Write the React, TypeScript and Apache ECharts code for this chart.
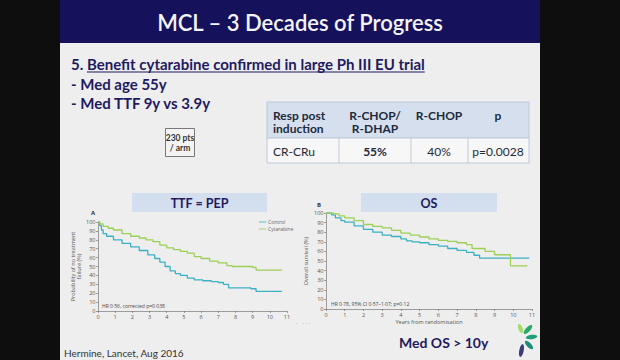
import React, { useEffect, useRef } from "react";
import * as echarts from "echarts";

// ---- data ----
const ttfControlT = [0, 0.1, 0.2, 0.3, 0.5, 0.9, 1.4, 1.9, 2.4, 2.9, 3.3, 3.6, 3.9, 4.2, 4.5, 4.8, 5.2, 5.6, 6.1, 6.6, 7.0, 7.3, 7.6, 8.2, 8.9, 9.2, 10.7];
const ttfControlV = [100, 96, 91, 87, 84, 80, 76, 72, 68, 63, 59, 55, 50, 45, 42, 40, 37, 35, 34, 33, 32, 30, 26, 26, 25, 22, 22];
const ttfCytT = [0, 0.1, 0.3, 0.6, 0.9, 1.4, 1.9, 2.4, 2.8, 3.2, 3.6, 4.0, 4.4, 4.8, 5.2, 5.6, 6.0, 6.5, 7.0, 7.5, 7.8, 8.5, 9.0, 9.2, 10.7];
const ttfCytV = [100, 98, 95, 93, 91, 87, 84, 82, 80, 78, 74, 71, 69, 67, 65, 61, 59, 56, 54, 51, 50, 50, 49, 46, 46];
const osControlT = [0, 0.3, 0.5, 0.8, 1.0, 1.5, 2.0, 2.5, 3.0, 3.5, 4.0, 4.3, 4.6, 5.0, 5.5, 6.0, 6.5, 7.0, 7.5, 7.9, 8.2, 10.85];
const osControlV = [100, 98, 95, 92, 90.5, 86.5, 83, 80, 77, 75.5, 73, 71, 70, 69, 67, 65.5, 63, 61, 59, 56, 53, 53];
const osCytT = [0, 0.4, 0.7, 1.0, 1.5, 2.0, 2.5, 3.0, 3.5, 4.0, 4.5, 5.0, 5.5, 6.0, 6.5, 7.0, 7.5, 7.8, 8.5, 9.0, 9.85, 10.75];
const osCytV = [100, 99, 97, 95, 92, 88, 86, 84.5, 82, 79, 77, 75, 73, 71.5, 70.5, 69, 67, 63, 60, 56.5, 45, 45];

const seriesNames = ["Control", "Cytarabine"];
const tableHead1 = ["Resp post", "R-CHOP/", "R-CHOP", "p"];
const tableHead2 = ["induction", "R-DHAP", "", ""];
const tableRow = ["CR-CRu", "55%", "40%", "p=0.0028"];
const bullets = ["- Med age 55y", "- Med TTF 9y vs 3.9y"];

const TEAL = "#3cb0c4";
const GREEN = "#9ccf55";
const NAVY = "#1f1b5e";
const SLIDE_FONT = "Lato";
const FIG_FONT = "Open Sans";

function pairs(t: number[], v: number[]) {
  return t.map((x, i) => [x, v[i]]);
}

function measure(str: string, font: string) {
  const c = document.createElement("canvas").getContext("2d");
  if (!c) return str.length * 7;
  c.font = font;
  return c.measureText(str).width;
}

function txt(x: number, y: number, text: string, o: any = {}) {
  return {
    type: "text",
    x,
    y,
    z: 10,
    style: {
      text,
      fill: o.fill || "#333",
      fontSize: o.size || 12,
      fontWeight: o.weight || "normal",
      fontFamily: o.family || SLIDE_FONT,
      align: o.align || "left",
      verticalAlign: "middle",
    },
  };
}

function axisCommon(extra: any) {
  return {
    type: "value",
    min: 0,
    axisLine: { show: true, lineStyle: { color: "#666", width: 0.6 } },
    axisTick: { show: true, length: 2, lineStyle: { color: "#666", width: 0.6 } },
    axisLabel: { fontSize: 5.5, margin: 2.5, color: "#555", fontFamily: FIG_FONT },
    splitLine: { show: false },
    ...extra,
  };
}

export default function App() {
  const ref = useRef<HTMLDivElement>(null);
  useEffect(() => {
    if (!ref.current) return;
    const chart = echarts.init(ref.current, undefined, { renderer: "svg" });

    const l1a = "5. ";
    const l1b = "Benefit cytarabine confirmed in large Ph III EU trial";
    const l1font = `bold 15px ${SLIDE_FONT}`;
    const wA = measure(l1a, l1font);
    const wB = measure(l1b, l1font);

    const colX = [267, 339, 411, 468, 529];
    const colC = [273, 375, 439, 498];

    const graphic: any[] = [
      { type: "rect", z: 0, shape: { x: 60, y: 0, width: 480, height: 360 }, style: { fill: "#eeeeee" } },
      { type: "rect", z: 1, shape: { x: 60, y: 0, width: 480, height: 43 }, style: { fill: "#15115a" } },
      txt(300, 22, "MCL – 3 Decades of Progress", { fill: "#f4f4fa", size: 22, weight: 600, align: "center" }),
      txt(71, 64, l1a + l1b, { fill: NAVY, size: 15, weight: "bold" }),
      { type: "line", z: 10, shape: { x1: 71 + wA, y1: 72, x2: 71 + wA + wB, y2: 72 }, style: { stroke: NAVY, lineWidth: 1 } },
      txt(71, 84, bullets[0], { fill: NAVY, size: 15, weight: "bold" }),
      txt(71, 103, bullets[1], { fill: NAVY, size: 15, weight: "bold" }),
      // pts box
      { type: "rect", z: 2, shape: { x: 165.5, y: 128.5, width: 29, height: 28 }, style: { fill: "#f3f3f3", stroke: "#7a7a7a", lineWidth: 1 } },
      txt(180, 137.5, "230 pts", { fill: "#333", size: 8.5, weight: "bold", align: "center" }),
      txt(180, 148, "/ arm", { fill: "#333", size: 8.5, weight: "bold", align: "center" }),
      // table
      { type: "rect", z: 2, shape: { x: 267, y: 102, width: 262, height: 36 }, style: { fill: "#d5dfee", stroke: "#bcc8d8", lineWidth: 1 } },
      { type: "rect", z: 2, shape: { x: 267, y: 138, width: 262, height: 25 }, style: { fill: "#f7f7f7", stroke: "#bcc8d8", lineWidth: 1 } },
      ...[1, 2, 3].map((i) => ({ type: "line", z: 3, shape: { x1: colX[i], y1: 138, x2: colX[i], y2: 163 }, style: { stroke: "#c4ccd8", lineWidth: 1 } })),
      ...tableHead1.map((s, i) => txt(colC[i], 115, s, { fill: "#1e2a3c", size: 12, weight: "bold", align: i === 0 ? "left" : "center" })),
      ...tableHead2.map((s, i) => txt(colC[i], 128.5, s, { fill: "#1e2a3c", size: 12, weight: "bold", align: i === 0 ? "left" : "center" })),
      ...tableRow.map((s, i) => txt(colC[i], 151, s, { fill: "#1e2a3c", size: 12, weight: i === 1 ? "bold" : "normal", align: i === 0 ? "left" : "center" })),
      // panel title boxes
      { type: "rect", z: 2, shape: { x: 132, y: 193, width: 135, height: 19 }, style: { fill: "#d3deee" } },
      txt(199.5, 203, "TTF = PEP", { fill: NAVY, size: 12.5, weight: "bold", align: "center" }),
      { type: "rect", z: 2, shape: { x: 361, y: 193, width: 136, height: 19 }, style: { fill: "#d3deee" } },
      txt(429, 203, "OS", { fill: NAVY, size: 12.5, weight: "bold", align: "center" }),
      // figure letters
      txt(91, 213, "A", { fill: "#333", size: 6, weight: "bold", family: FIG_FONT }),
      txt(317, 205, "B", { fill: "#333", size: 6, weight: "bold", family: FIG_FONT }),
      // legend A
      { type: "line", z: 10, shape: { x1: 259, y1: 222, x2: 266.5, y2: 222 }, style: { stroke: TEAL, lineWidth: 0.8 } },
      { type: "line", z: 10, shape: { x1: 259, y1: 229, x2: 266.5, y2: 229 }, style: { stroke: GREEN, lineWidth: 0.8 } },
      txt(268, 222, seriesNames[0], { fill: "#666", size: 5, family: FIG_FONT }),
      txt(268, 229, seriesNames[1], { fill: "#666", size: 5, family: FIG_FONT }),
      // HR texts
      txt(102, 305.5, "HR 0·56, corrected p=0·038", { fill: "#444", size: 5, family: FIG_FONT }),
      txt(331, 304, "HR 0·78, 95% CI 0·57–1·07; p=0·12", { fill: "#444", size: 5, family: FIG_FONT }),
      // stray dots
      txt(296, 323, "·   · · ·", { fill: "#777", size: 6, family: FIG_FONT }),
      // footer
      txt(64, 353, "Hermine, Lancet, Aug 2016", { fill: "#333", size: 10 }),
      txt(399, 342, "Med OS > 10y", { fill: NAVY, size: 14, weight: "bold" }),
      // logo
      { type: "ellipse", z: 5, x: 520.5, y: 328.5, rotation: 0.35, shape: { cx: 0, cy: 0, rx: 2.2, ry: 4.8 }, style: { fill: "#a4dc6a" } },
      { type: "ellipse", z: 5, x: 528, y: 329.5, rotation: -0.75, shape: { cx: 0, cy: 0, rx: 2.3, ry: 5.8 }, style: { fill: "#2aa866" } },
      { type: "ellipse", z: 5, x: 531.5, y: 337, rotation: 0.15, shape: { cx: 0, cy: 0, rx: 5.8, ry: 2.2 }, style: { fill: "#1f9c78" } },
      { type: "ellipse", z: 5, x: 529, y: 345, rotation: 0.75, shape: { cx: 0, cy: 0, rx: 2.3, ry: 5.5 }, style: { fill: "#1e8c7a" } },
      { type: "ellipse", z: 5, x: 521.5, y: 350.5, rotation: -0.2, shape: { cx: 0, cy: 0, rx: 2.2, ry: 6.5 }, style: { fill: "#3b3a7c" } },
    ];

    chart.setOption({
      animation: false,
      backgroundColor: "#0e0e0e",
      graphic,
      grid: [
        { left: 98, top: 222, width: 189, height: 89 },
        { left: 326, top: 213, width: 206, height: 96 },
      ],
      xAxis: [
        axisCommon({ gridIndex: 0, max: 11, interval: 1 }),
        axisCommon({
          gridIndex: 1, max: 11, interval: 1,
          name: "Years from randomisation", nameLocation: "middle", nameGap: 10,
          nameTextStyle: { fontSize: 5.5, color: "#555", fontFamily: FIG_FONT },
        }),
      ],
      yAxis: [
        axisCommon({
          gridIndex: 0, max: 100, interval: 10,
          name: "Probability of no treatment\nfailure (%)", nameLocation: "middle", nameGap: 12, nameRotate: 90,
          nameTextStyle: { fontSize: 5.5, lineHeight: 6, color: "#555", fontFamily: FIG_FONT },
        }),
        axisCommon({
          gridIndex: 1, max: 100, interval: 10,
          name: "Overall survival (%)", nameLocation: "middle", nameGap: 17, nameRotate: 90,
          nameTextStyle: { fontSize: 5.5, color: "#555", fontFamily: FIG_FONT },
        }),
      ],
      series: [
        { name: seriesNames[0], type: "line", step: "end", xAxisIndex: 0, yAxisIndex: 0, showSymbol: false, lineStyle: { color: TEAL, width: 1.3 }, itemStyle: { color: TEAL }, data: pairs(ttfControlT, ttfControlV) },
        { name: seriesNames[1], type: "line", step: "end", xAxisIndex: 0, yAxisIndex: 0, showSymbol: false, lineStyle: { color: GREEN, width: 1.3 }, itemStyle: { color: GREEN }, data: pairs(ttfCytT, ttfCytV) },
        { name: seriesNames[0], type: "line", step: "end", xAxisIndex: 1, yAxisIndex: 1, showSymbol: false, lineStyle: { color: TEAL, width: 1.3 }, itemStyle: { color: TEAL }, data: pairs(osControlT, osControlV) },
        { name: seriesNames[1], type: "line", step: "end", xAxisIndex: 1, yAxisIndex: 1, showSymbol: false, lineStyle: { color: GREEN, width: 1.3 }, itemStyle: { color: GREEN }, data: pairs(osCytT, osCytV) },
      ],
    });
    return () => chart.dispose();
  }, []);
  return (
    <div
      ref={ref}
      style={{ position: "fixed", left: 0, top: 0, width: 620, height: 360 }}
    />
  );
}
